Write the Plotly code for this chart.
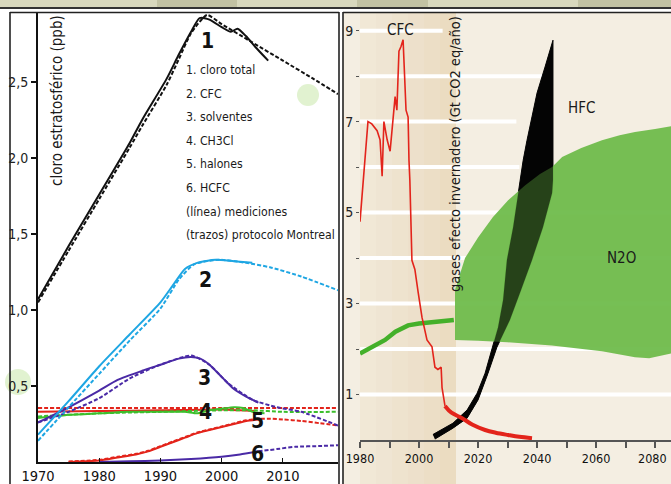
import plotly.graph_objects as go

W, H = 671, 484
FONT = "DejaVu Sans Condensed, Liberation Sans Narrow, Arial Narrow, Liberation Sans, sans-serif"

# ---------------- left panel: stratospheric chlorine (ppb) ----------------
yr_total_meas = [1970, 1975, 1980, 1985, 1987, 1991, 1993, 1995, 1996.4, 1998, 2000, 2001.5, 2002.6, 2004, 2005.5, 2007.6]
val_total_meas = [1.07, 1.42, 1.76, 2.10, 2.25, 2.52, 2.68, 2.83, 2.92, 2.91, 2.86, 2.83, 2.85, 2.80, 2.73, 2.64]
yr_total_mp = [1970, 1975, 1980, 1985, 1987, 1991, 1993, 1995, 1997.6, 2000, 2005, 2010, 2015, 2019]
val_total_mp = [1.05, 1.39, 1.73, 2.07, 2.21, 2.48, 2.65, 2.82, 2.94, 2.88, 2.76, 2.64, 2.52, 2.42]

yr_cfc_meas = [1970, 1975, 1980, 1985, 1990, 1992, 1994, 1996, 1999, 2002, 2005]
val_cfc_meas = [0.18, 0.40, 0.63, 0.84, 1.05, 1.16, 1.27, 1.31, 1.33, 1.32, 1.31]
yr_cfc_mp = [1970, 1975, 1980, 1985, 1990, 1993, 1995.5, 1999.5, 2004, 2008, 2013, 2019]
val_cfc_mp = [0.14, 0.36, 0.58, 0.80, 1.01, 1.20, 1.30, 1.33, 1.31, 1.28, 1.22, 1.13]

yr_solv_meas = [1970, 1975, 1980, 1983, 1987, 1990, 1993, 1995, 1996.5, 1998, 2000, 2002, 2004, 2006]
val_solv_meas = [0.26, 0.36, 0.47, 0.54, 0.60, 0.64, 0.68, 0.69, 0.68, 0.64, 0.56, 0.48, 0.43, 0.39]
yr_solv_mp = [1970, 1975, 1980, 1985, 1990, 1995, 1998, 2001, 2005, 2009, 2013, 2019]
val_solv_mp = [0.26, 0.33, 0.42, 0.55, 0.64, 0.70, 0.64, 0.52, 0.41, 0.36, 0.33, 0.24]

yr_ch3cl_meas = [1970, 1975, 1980, 1985, 1990, 1994, 1996, 1998, 2000, 2002, 2003.5, 2005, 2007]
val_ch3cl_meas = [0.29, 0.31, 0.32, 0.33, 0.33, 0.33, 0.32, 0.34, 0.35, 0.36, 0.355, 0.33, 0.32]
yr_ch3cl_mp = [1970, 1980, 1990, 2000, 2005, 2010, 2019]
val_ch3cl_mp = [0.30, 0.32, 0.33, 0.34, 0.34, 0.33, 0.33]

yr_flat_meas = [1970, 1980, 1990, 2000, 2003, 2005.5]
val_flat_meas = [0.33, 0.335, 0.34, 0.345, 0.34, 0.335]
yr_flat_mp = [1970, 1980, 1990, 2000, 2010, 2019]
val_flat_mp = [0.355, 0.355, 0.355, 0.355, 0.355, 0.355]

yr_halon_meas = [1975, 1978, 1980, 1983, 1986, 1988, 1990, 1992, 1994, 1996, 1998, 2000, 2002, 2004, 2006]
val_halon_meas = [0.0, 0.005, 0.01, 0.03, 0.05, 0.07, 0.10, 0.13, 0.16, 0.19, 0.21, 0.23, 0.25, 0.27, 0.28]
yr_halon_mp = [2006, 2008, 2010, 2013, 2016, 2019]
val_halon_mp = [0.28, 0.285, 0.28, 0.27, 0.255, 0.24]

yr_hcfc_meas = [1980, 1985, 1990, 1995, 2000, 2003, 2006]
val_hcfc_meas = [0.0, 0.005, 0.01, 0.02, 0.035, 0.05, 0.07]
yr_hcfc_mp = [2006, 2009, 2012, 2016, 2019]
val_hcfc_mp = [0.07, 0.085, 0.10, 0.105, 0.11]

left_yticks = [0.5, 1.0, 1.5, 2.0, 2.5]
left_yticktext = ["0,5", "1,0", "1,5", "2,0", "2,5"]
left_xticks = [1970, 1980, 1990, 2000, 2010]

legend_lines = ["1. cloro total", "2. CFC", "3. solventes", "4. CH3Cl", "5. halones",
                "6. HCFC", "(línea) mediciones", "(trazos) protocolo Montreal"]

# ---------------- right panel: GHG emissions (Gt CO2 eq/año) ----------------
yr_cfc_em = [1980, 1982.7, 1984, 1985.8, 1986.8, 1987.5, 1988.1, 1989.2, 1990.2, 1991.2, 1991.9, 1992.5,
             1993.2, 1993.9, 1994.6, 1995.6, 1996.3, 1996.6, 1996.9, 1997.6, 1998.6, 1999.7, 2001,
             2002.7, 2004.4, 2005.4, 2006.4, 2007.5, 2007.8, 2008.8]
val_cfc_em = [4.8, 7.0, 6.95, 6.8, 6.6, 5.8, 7.0, 6.6, 6.35, 7.1, 7.55, 7.25,
              8.55, 8.65, 8.8, 7.25, 7.1, 6.15, 5.7, 3.95, 3.75, 3.25, 2.7,
              2.2, 2.05, 1.6, 1.55, 1.6, 1.15, 0.75]
yr_cfc_em_tail = [2008.8, 2011, 2014.6, 2018, 2022.4, 2026, 2030.2, 2034, 2038.3]
val_cfc_em_tail = [0.75, 0.6, 0.48, 0.34, 0.22, 0.16, 0.11, 0.07, 0.04]

yr_green_line = [1980, 1984, 1988.5, 1992, 1996.3, 2000, 2005, 2011.8]
val_green_line = [1.9, 2.05, 2.2, 2.38, 2.52, 2.56, 2.6, 2.64]

# HFC band: upper/left edge then lower/right edge (closed polygon)
yr_hfc_upper = [2004.7, 2011.5, 2016.3, 2019.7, 2022.4, 2024.7, 2026.8, 2028.5, 2029.8, 2031.9,
                2033.6, 2035.3, 2036.6, 2038.3, 2040.0, 2042.7, 2045.4]
val_hfc_upper = [0.12, 0.37, 0.66, 1.03, 1.47, 1.98, 2.48, 3.08, 3.96, 4.68,
                 5.43, 6.15, 6.59, 7.10, 7.63, 8.20, 8.79]
yr_hfc_lower = [2045.4, 2045.4, 2045.1, 2042.0, 2038.3, 2034.2, 2030.8, 2026.4, 2023.4, 2020.0,
                2016.3, 2011.5, 2005.4]
val_hfc_lower = [8.79, 5.71, 5.43, 4.68, 3.96, 3.23, 2.64, 2.04, 1.47, 0.88,
                 0.48, 0.26, 0.02]

# N2O area: upper edge then lower edge (closed polygon)
yr_n2o_upper = [2012.2, 2012.2, 2015.6, 2020, 2025, 2030.2, 2036, 2041, 2045.1, 2048.5, 2055, 2062, 2068, 2073.2, 2080, 2085.4]
val_n2o_upper = [2.2, 3.3, 4.0, 4.45, 4.9, 5.27, 5.6, 5.85, 6.0, 6.22, 6.42, 6.59, 6.7, 6.77, 6.84, 6.9]
yr_n2o_lower = [2085.4, 2078, 2073.2, 2062, 2045, 2030, 2020, 2012.2]
val_n2o_lower = [1.9, 1.8, 1.82, 1.95, 2.08, 2.15, 2.18, 2.2]

right_yticks = [1, 2, 3, 4, 5, 6, 7, 8, 9]
right_yticktext = ["1", "", "3", "", "5", "", "7", "", "9"]
right_xticks = [1980, 1990, 2000, 2010, 2020, 2030, 2040, 2050, 2060, 2070, 2080]
right_xticktext = ["1980", "", "2000", "", "2020", "", "2040", "", "2060", "", ""]
last_xlabel = "2080"
grid_levels = [1, 2, 3, 4, 5, 6, 7, 8, 9]
grid_ends = [2086, 2086, 2086, 2086, 2086, 2034, 2033, 2045, 2008]

BLACK = "#111111"
BLUE = "#1ea6e3"
PURPLE = "#4a2aa6"
GREEN = "#3cbf2c"
RED = "#e3241b"


def PX(x):
    return x / W


def PY(y):
    return 1 - y / H


fig = go.Figure()


def add_line(x, y, color, dash="solid", width=2.0, ax="", shape="spline"):
    fig.add_trace(go.Scatter(
        x=x, y=y, mode="lines", xaxis="x" + ax, yaxis="y" + ax,
        line=dict(color=color, width=width, dash=dash, shape=shape, smoothing=0.6),
        hoverinfo="skip", showlegend=False))


DASH = "4px,2px"
add_line(yr_flat_mp, val_flat_mp, RED, DASH)
add_line(yr_flat_meas, val_flat_meas, RED)
add_line(yr_ch3cl_mp, val_ch3cl_mp, GREEN, DASH)
add_line(yr_ch3cl_meas, val_ch3cl_meas, GREEN)
add_line(yr_halon_meas, val_halon_meas, RED)
add_line(yr_halon_meas + yr_halon_mp[1:], [v + 0.004 for v in val_halon_meas] + val_halon_mp[1:], RED, DASH)
add_line(yr_hcfc_meas, val_hcfc_meas, PURPLE)
add_line(yr_hcfc_mp, val_hcfc_mp, PURPLE, DASH)
add_line(yr_solv_mp, val_solv_mp, PURPLE, DASH)
add_line(yr_solv_meas, val_solv_meas, PURPLE)
add_line(yr_cfc_mp, val_cfc_mp, BLUE, DASH)
add_line(yr_cfc_meas, val_cfc_meas, BLUE)
add_line(yr_total_mp, val_total_mp, BLACK, DASH)
add_line(yr_total_meas, val_total_meas, BLACK)

fig.add_trace(go.Scatter(x=yr_green_line, y=val_green_line, mode="lines", xaxis="x2", yaxis="y2",
                         line=dict(color="#44b02a", width=4.5), hoverinfo="skip", showlegend=False))
hfc_x = yr_hfc_upper + yr_hfc_lower
hfc_y = val_hfc_upper + val_hfc_lower
fig.add_trace(go.Scatter(x=hfc_x, y=hfc_y, mode="lines", fill="toself", xaxis="x2", yaxis="y2",
                         fillcolor="#0c0c0c", line=dict(color="#0c0c0c", width=1),
                         hoverinfo="skip", showlegend=False))
fig.add_trace(go.Scatter(x=yr_n2o_upper + yr_n2o_lower, y=val_n2o_upper + val_n2o_lower, mode="lines",
                         fill="toself", xaxis="x2", yaxis="y2",
                         fillcolor="rgba(108,186,72,0.93)", line=dict(width=0),
                         hoverinfo="skip", showlegend=False))
fig.add_trace(go.Scatter(x=hfc_x, y=hfc_y, mode="lines", fill="toself", xaxis="x2", yaxis="y2",
                         fillcolor="rgba(0,0,0,0.62)", line=dict(width=0),
                         hoverinfo="skip", showlegend=False))
fig.add_trace(go.Scatter(x=yr_cfc_em, y=val_cfc_em, mode="lines", xaxis="x2", yaxis="y2",
                         line=dict(color=RED, width=1.6), hoverinfo="skip", showlegend=False))
fig.add_trace(go.Scatter(x=yr_cfc_em_tail, y=val_cfc_em_tail, mode="lines", xaxis="x2", yaxis="y2",
                         line=dict(color=RED, width=4, shape="spline"), hoverinfo="skip", showlegend=False))

shapes = []
shapes.append(dict(type="rect", xref="paper", yref="paper", x0=PX(343), x1=1, y0=0, y1=PY(12),
                   fillcolor="#f4eee2", line=dict(width=0), layer="below"))
for i, a in enumerate([0.2, 0.28, 0.36, 0.44, 0.52, 0.6]):
    x0 = 360 + i * 16
    shapes.append(dict(type="rect", xref="paper", yref="paper", x0=PX(x0), x1=PX(x0 + 16), y0=PY(484), y1=PY(13),
                       fillcolor=f"rgba(228,208,172,{a})", line=dict(width=0), layer="below"))
for lev, end in zip(grid_levels, grid_ends):
    shapes.append(dict(type="line", xref="x2", yref="y2", x0=1980, x1=end, y0=lev, y1=lev,
                       line=dict(color="white", width=4), layer="below"))
shapes.append(dict(type="rect", xref="paper", yref="paper", x0=0, x1=1, y0=PY(8), y1=1,
                   fillcolor="#d8d8bd", line=dict(width=0), layer="above"))
for a, b in [(157, 237), (357, 428), (578, 671)]:
    shapes.append(dict(type="rect", xref="paper", yref="paper", x0=PX(a), x1=PX(b), y0=PY(8), y1=1,
                       fillcolor="#c2c2a3", line=dict(width=0), layer="above"))
shapes.append(dict(type="line", xref="paper", yref="paper", x0=0, x1=1, y0=PY(8), y1=PY(8),
                   line=dict(color="#333333", width=2), layer="above"))
for (x0, y0, x1, y1) in [(10, 12.5, 339, 12.5), (10, 12, 10, 484), (339, 12, 339, 484),
                         (343, 12.5, 671, 12.5), (343, 12, 343, 484)]:
    shapes.append(dict(type="line", xref="paper", yref="paper", x0=PX(x0), x1=PX(x1), y0=PY(y0), y1=PY(y1),
                       line=dict(color="#222222", width=1.6), layer="above"))
for cx, cy, r in [(308, 95, 11), (18, 382, 13)]:
    shapes.append(dict(type="circle", xref="paper", yref="paper", x0=PX(cx - r), x1=PX(cx + r),
                       y0=PY(cy + r), y1=PY(cy - r), fillcolor="rgba(200,232,170,0.55)",
                       line=dict(width=0), layer="below"))

ann = []


def txt(x, y, s, size=15, bold=False, angle=0, color="#1a1a1a", xanchor="center"):
    ann.append(dict(xref="paper", yref="paper", x=PX(x), y=PY(y), text=("<b>%s</b>" % s) if bold else s,
                    showarrow=False, textangle=angle, xanchor=xanchor, yanchor="middle",
                    font=dict(family=FONT, size=size, color=color)))


txt(57, 101, "cloro estratosférico (ppb)", size=15, angle=-90)
for i, s in enumerate(legend_lines):
    txt(184, 70 + i * 23.6, s, size=12.2, xanchor="left")
for s, (x, y) in zip(["1", "2", "3", "4", "5", "6"],
                     [(207, 41), (205, 280), (204, 378), (205, 412), (257, 421), (257, 454)]):
    txt(x, y, s, size=21, bold=True, color="#111111")
txt(400, 30, "CFC", size=15)
txt(581, 108, "HFC", size=15)
txt(621, 258, "N2O", size=15)
txt(455, 154, "gases efecto invernadero (Gt CO2 eq/año)", size=14.5, angle=-90)
# last right-axis label, nudged left so it stays inside the page
ann.append(dict(xref="paper", yref="paper", x=PX(669), y=PY(449), text=last_xlabel, showarrow=False,
                xanchor="right", yanchor="top", font=dict(family=FONT, size=12.5, color="#111")))

fig.update_layout(
    template="none",
    width=W, height=H, margin=dict(l=0, r=0, t=0, b=0, pad=0),
    paper_bgcolor="white", plot_bgcolor="rgba(0,0,0,0)",
    showlegend=False, shapes=shapes, annotations=ann,
    xaxis=dict(domain=[PX(38), PX(338)], range=[1970, 2019], anchor="y", automargin=False,
               showline=True, linecolor=BLACK, linewidth=2, ticks="inside", ticklen=4,
               tickcolor=BLACK, tickvals=left_xticks, showgrid=False, zeroline=False,
               tickfont=dict(family=FONT, size=14.5, color="#111")),
    yaxis=dict(domain=[PY(462), PY(12)], range=[0, 2.96], anchor="x", automargin=False,
               showline=True, linecolor=BLACK, linewidth=2, ticks="outside", ticklen=5, tickwidth=2,
               tickcolor=BLACK, tickvals=left_yticks, ticktext=left_yticktext, showgrid=False,
               zeroline=False, tickfont=dict(family=FONT, size=14, color="#222")),
    xaxis2=dict(domain=[PX(360), 1], range=[1980, 2085.4], anchor="y2", automargin=False,
                showline=True, linecolor="#555555", linewidth=2, ticks="outside", ticklen=6, tickwidth=1.5,
                tickcolor="#555555", tickvals=right_xticks, ticktext=right_xticktext, showgrid=False,
                zeroline=False, ticklabeloverflow="allow",
                tickfont=dict(family=FONT, size=12.5, color="#111")),
    yaxis2=dict(domain=[PY(440), PY(12)], range=[0, 9.41], anchor="x2", automargin=False,
                showline=False, ticks="outside", ticklen=3, tickwidth=1, tickcolor="#555",
                tickvals=right_yticks, ticktext=right_yticktext, showgrid=False, zeroline=False,
                tickfont=dict(family=FONT, size=14, color="#222")),
)

fig.write_html("out.html", config={"displayModeBar": False},
               post_script="document.body.style.margin='0px';document.body.style.padding='0px';"
                           "document.documentElement.style.overflow='hidden';")
